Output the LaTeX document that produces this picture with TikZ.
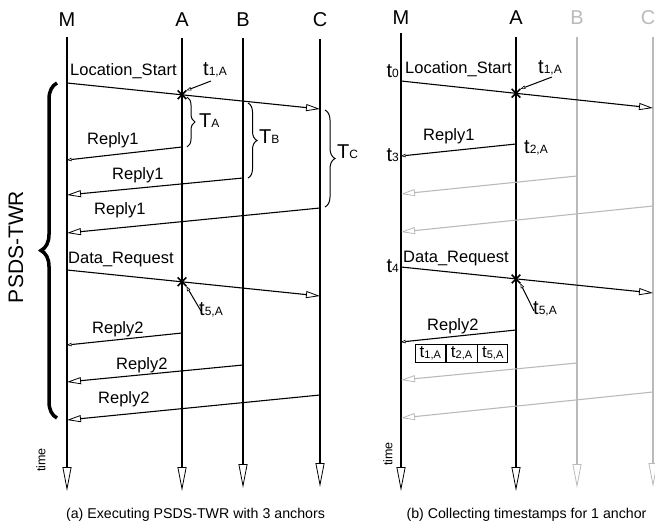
\documentclass[tikz,border=0pt]{standalone}
\usepackage{fontspec}
\setmainfont{Liberation Sans}
\usetikzlibrary{arrows.meta,decorations.pathreplacing,shapes.misc}
\newcommand\subt[2]{{\fontsize{20}{20}\selectfont #1}\raisebox{-0.1ex}{\fontsize{12}{12}\selectfont #2}}
\newcommand\subs[2]{{\fontsize{17}{17}\selectfont #1}\raisebox{-0.1ex}{\fontsize{11}{11}\selectfont #2}}
\begin{document}
\begin{tikzpicture}[x=1pt,y=-1pt,
  lbl/.style={font=\fontsize{16.5}{16.5}\selectfont, inner sep=0pt},
  head/.style={font=\fontsize{20}{20}\selectfont, inner sep=0pt, anchor=base},
  captxt/.style={font=\fontsize{14.2}{14.2}\selectfont, inner sep=0pt, anchor=base},
  life/.style={line width=1.3pt, -{Triangle[open,fill=white,length=24pt,width=9pt,line width=0.8pt]}},
  msg/.style={line width=1.1pt, -{Triangle[open,fill=white,length=14pt,width=7pt,line width=0.8pt]}},
  smsg/.style={line width=1.1pt, -{Triangle[open,fill=white,length=4.5pt,width=3.5pt,line width=0.6pt]}},
  ptr/.style={line width=1pt, -{Triangle[open,fill=white,length=5pt,width=3.5pt,line width=0.6pt]}},
  xmark/.style={cross out, draw, line width=1.6pt, minimum size=7pt, inner sep=0pt},
  liteline/.style={draw=black!27},
  litetext/.style={text=black!27},
  brc/.style={decorate, decoration={brace, amplitude=#1}, line width=1pt},
  bigbrc/.style={decorate, decoration={brace, amplitude=16pt}, line width=3.5pt},
  tsbox/.style={draw, line width=0.7pt, inner sep=0pt, minimum height=18pt}]
\useasboundingbox (0,0) rectangle (655,527);

%% ================= Panel (a) =================
\node[head] (hM) at (67,27) {M};
\node[head] (hA) at (182,27) {A};
\node[head] (hB) at (243,27) {B};
\node[head] (hC) at (320,27) {C};
\coordinate (Mt) at (67,37);  \coordinate (Mb) at (67,491);
\coordinate (At) at (182,38); \coordinate (Ab) at (182,491);
\coordinate (Bt) at (243,38); \coordinate (Bb) at (243,488);
\coordinate (Ct) at (320,39); \coordinate (Cb) at (320,487);
\draw[life] (Mt) -- (Mb);
\draw[life] (At) -- (Ab);
\draw[life] (Bt) -- (Bb);
\draw[life] (Ct) -- (Cb);

% Location_Start
\coordinate (ls0) at (67,83); \coordinate (ls1) at (320,109);
\draw[msg] (ls0) -- (ls1);
\node[lbl, anchor=base west] (lsl) at (70,75) {Location\_Start};
\node[xmark] (x1) at (182,94.8) {};
\node[lbl, anchor=base west] (t1a) at (203,75) {\subt{t}{1,A}};
\coordinate (p1) at (211,81);
\draw[ptr] (p1) -- (x1.north east);

% braces
\coordinate (ta0) at (187,97); \coordinate (ta1) at (187,147);
\draw[brc=8pt] (ta0) -- (ta1);
\node[lbl, anchor=base west] (TA) at (199,127) {\subt{T}{A}};
\coordinate (tb0) at (248,103); \coordinate (tb1) at (248,178);
\draw[brc=9pt] (tb0) -- (tb1);
\node[lbl, anchor=base west] (TB) at (259,143) {\subt{T}{B}};
\coordinate (tc0) at (325,110); \coordinate (tc1) at (325,207);
\draw[brc=10pt] (tc0) -- (tc1);
\node[lbl, anchor=base west] (TC) at (337,158) {\subt{T}{C}};

% Reply1
\coordinate (ra1) at (182,147); \coordinate (ma1) at (67,160);
\draw[smsg] (ra1) -- (ma1);
\node[lbl, anchor=base west] (r1a) at (87,144) {Reply1};
\coordinate (rb1) at (243,178); \coordinate (mb1) at (67,195);
\draw[msg] (rb1) -- (mb1);
\node[lbl, anchor=base west] (r1b) at (112,179) {Reply1};
\coordinate (rc1) at (320,208); \coordinate (mc1) at (67,233);
\draw[msg] (rc1) -- (mc1);
\node[lbl, anchor=base west] (r1c) at (94,214) {Reply1};

% Data_Request
\coordinate (dr0) at (67,270); \coordinate (dr1) at (320,296);
\draw[msg] (dr0) -- (dr1);
\node[lbl, anchor=base west] (drl) at (68,263) {Data\_Request};
\node[xmark] (x5) at (182,281.8) {};
\node[lbl, anchor=base west] (t5a) at (199,315) {\subt{t}{5,A}};
\coordinate (p5) at (201,311);
\draw[ptr] (p5) -- (x5.south east);

% Reply2
\coordinate (ra2) at (182,333); \coordinate (ma2) at (67,345);
\draw[smsg] (ra2) -- (ma2);
\node[lbl, anchor=base west] (r2a) at (92,333) {Reply2};
\coordinate (rb2) at (243,365); \coordinate (mb2) at (67,382);
\draw[msg] (rb2) -- (mb2);
\node[lbl, anchor=base west] (r2b) at (116,369) {Reply2};
\coordinate (rc2) at (320,395); \coordinate (mc2) at (67,420);
\draw[msg] (rc2) -- (mc2);
\node[lbl, anchor=base west] (r2c) at (98,403) {Reply2};

% big brace
\coordinate (bb0) at (57,418); \coordinate (bb1) at (57,83);
\draw[bigbrc] (bb0) -- (bb1);
\node[font=\fontsize{21}{21}\selectfont, inner sep=0pt, rotate=90] (psds) at (16,247) {PSDS-TWR};
\node[font=\fontsize{12.5}{12.5}\selectfont, inner sep=0pt, rotate=90] (timea) at (41,460) {time};
\node[captxt] (capa) at (195.5,518) {(a) Executing PSDS-TWR with 3 anchors};

%% ================= Panel (b) =================
\node[head] (hM2) at (401,25) {M};
\node[head] (hA2) at (516,25) {A};
\node[head, litetext] (hB2) at (577,25) {B};
\node[head, litetext] (hC2) at (648,25) {C};
\coordinate (Mt2) at (401,33);  \coordinate (Mb2) at (401,491);
\coordinate (At2) at (516,37); \coordinate (Ab2) at (516,491);
\coordinate (Bt2) at (577,37); \coordinate (Bb2) at (577,488);
\coordinate (Ct2) at (653,37); \coordinate (Cb2) at (653,487);
\draw[life] (Mt2) -- (Mb2);
\draw[life] (At2) -- (Ab2);
\draw[life, liteline] (Bt2) -- (Bb2);
\draw[life, liteline] (Ct2) -- (Cb2);

% Location_Start
\coordinate (ls2) at (401,81); \coordinate (ls3) at (653,108);
\draw[msg] (ls2) -- (ls3);
\node[lbl, anchor=base west] (lsl2) at (405,74) {Location\_Start};
\node[lbl, anchor=base east] (t0) at (399,77) {\subt{t}{0}};
\node[xmark] (x12) at (516,93.3) {};
\node[lbl, anchor=base west] (t1a2) at (538,73) {\subt{t}{1,A}};
\coordinate (p12) at (552,77);
\draw[ptr] (p12) -- (x12.north east);

% Reply1
\coordinate (ra12) at (516,144); \coordinate (ma12) at (401,156);
\draw[smsg] (ra12) -- (ma12);
\node[lbl, anchor=base west] (r1a2) at (423,140) {Reply1};
\node[lbl, anchor=base west] (t2a) at (524,153) {\subt{t}{2,A}};
\node[lbl, anchor=base east] (t3) at (399,161) {\subt{t}{3}};
\coordinate (rb12) at (577,176); \coordinate (mb12) at (401,194);
\draw[msg, liteline] (rb12) -- (mb12);
\coordinate (rc12) at (653,206); \coordinate (mc12) at (401,232);
\draw[msg, liteline] (rc12) -- (mc12);

% Data_Request
\coordinate (dr2) at (401,267); \coordinate (dr3) at (653,293);
\draw[msg] (dr2) -- (dr3);
\node[lbl, anchor=base west] (drl2) at (403,262) {Data\_Request};
\node[lbl, anchor=base east] (t4) at (399,272) {\subt{t}{4}};
\node[xmark] (x52) at (516,278.9) {};
\node[lbl, anchor=base west] (t5a2) at (533,314) {\subt{t}{5,A}};
\coordinate (p52) at (534,311);
\draw[ptr] (p52) -- (x52.south east);

% Reply2
\coordinate (ra22) at (516,330); \coordinate (ma22) at (401,342);
\draw[smsg] (ra22) -- (ma22);
\node[lbl, anchor=base west] (r2a2) at (427,330) {Reply2};
\node[tsbox, minimum width=30pt, anchor=north west] (bx1) at (415,344) {\subs{t}{1,A}};
\node[tsbox, minimum width=31pt, anchor=north west] (bx2) at (bx1.north east) {\subs{t}{2,A}};
\node[tsbox, minimum width=30pt, anchor=north west] (bx3) at (bx2.north east) {\subs{t}{5,A}};
\coordinate (rb22) at (577,363); \coordinate (mb22) at (401,380);
\draw[msg, liteline] (rb22) -- (mb22);
\coordinate (rc22) at (653,392); \coordinate (mc22) at (401,418);
\draw[msg, liteline] (rc22) -- (mc22);

\node[font=\fontsize{12.5}{12.5}\selectfont, inner sep=0pt, rotate=90] (timeb) at (388,454) {time};
\node[captxt] (capb) at (526.5,518) {(b) Collecting timestamps for 1 anchor};
\end{tikzpicture}
\end{document}
